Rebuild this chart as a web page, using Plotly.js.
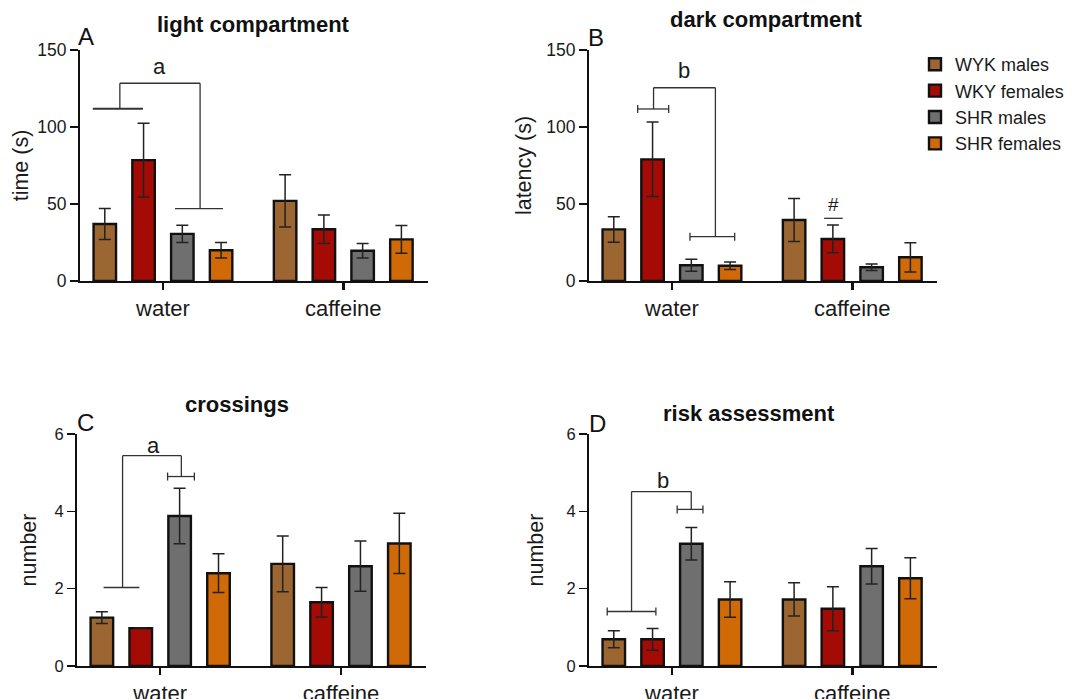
<!DOCTYPE html>
<html>
<head>
<meta charset="utf-8">
<script src="https://cdn.plot.ly/plotly-3.0.1.min.js"></script>
<style>html,body{margin:0;padding:0;background:#fff;} #chart{width:1074px;height:699px;}</style>
</head>
<body>
<div id="chart"></div>
<script>
// ---- data ----
const groups = ['water', 'caffeine'];
const seriesNames = ['WYK males', 'WKY females', 'SHR males', 'SHR females'];
const seriesColors = ['#9C6632', '#A50B05', '#6F6F6F', '#D06A06'];

// A: light compartment, time (s)
const lightMean = [[37, 52], [78.5, 33.6], [30.6, 19.6], [20, 27]];
const lightSem  = [[10, 17], [24, 9.3], [5.6, 4.7], [5, 9]];
// B: dark compartment, latency (s)
const darkMean = [[33.5, 39.6], [79, 27.3], [10.2, 8.9], [9.9, 15.4]];
const darkSem  = [[8.3, 14], [24.2, 9], [3.9, 2.1], [2.4, 9.5]];
// C: crossings, number
const crossMean = [[1.25, 2.64], [0.98, 1.65], [3.88, 2.58], [2.40, 3.17]];
const crossSem  = [[0.15, 0.72], [0, 0.38], [0.72, 0.65], [0.5, 0.78]];
// D: risk assessment, number
const riskMean = [[0.69, 1.72], [0.69, 1.48], [3.16, 2.58], [1.72, 2.27]];
const riskSem  = [[0.22, 0.43], [0.28, 0.57], [0.42, 0.46], [0.46, 0.53]];

const FONT = 'Liberation Sans, Arial, Helvetica, sans-serif';
const W = 1074, H = 699;
const px = v => v / W;
const py = v => (H - v) / H;

const panels = [
  {ax: '',  mean: lightMean, sem: lightSem, legend: true},
  {ax: '2', mean: darkMean,  sem: darkSem,  legend: false},
  {ax: '3', mean: crossMean, sem: crossSem, legend: false},
  {ax: '4', mean: riskMean,  sem: riskSem,  legend: false}
];

const traces = [];
panels.forEach(p => {
  seriesNames.forEach((name, i) => {
    traces.push({
      type: 'bar',
      name: name,
      legendgroup: name,
      showlegend: p.legend,
      x: groups,
      y: p.mean[i],
      xaxis: 'x' + p.ax,
      yaxis: 'y' + p.ax,
      marker: {color: seriesColors[i], line: {color: '#111', width: 2.4}},
      error_y: {type: 'data', array: p.sem[i], visible: true, color: '#222', thickness: 1.5, width: 6},
      hoverinfo: 'y+name'
    });
  });
});

function xAxis(dom) {
  return {
    domain: [px(dom[0]), px(dom[1])], type: 'category', range: [-0.46, 1.47],
    showline: true, linewidth: 2, linecolor: '#111', ticks: 'outside', ticklen: 7, tickwidth: 2.5,
    tickcolor: '#111', showgrid: false, zeroline: false, fixedrange: true,
    tickfont: {family: FONT, size: 22, color: '#1a1a1a'}
  };
}
function yAxis(dom, range, dtick, title, standoff, anchor, tfs) {
  return {
    domain: [py(dom[0]), py(dom[1])], range: range, dtick: dtick,
    showline: true, linewidth: 2, linecolor: '#111', ticks: 'outside', ticklen: 8, tickwidth: 1.5,
    tickcolor: '#111', showgrid: false, zeroline: false, fixedrange: true, anchor: anchor,
    tickfont: {family: FONT, size: tfs, color: '#1a1a1a'},
    title: {text: title, standoff: standoff, font: {family: FONT, size: 21.5, color: '#1a1a1a'}}
  };
}

// ---- annotation helpers (brackets) ----
const BR = {color: '#333', width: 1.3};
function seg(ax, x0, y0, x1, y1, w) {
  return {type: 'line', xref: 'x' + ax, yref: 'y' + ax, x0: x0, y0: y0, x1: x1, y1: y1,
          line: {color: BR.color, width: w || BR.width}};
}
function cap(ax, x, y) {
  return {type: 'line', xref: 'x' + ax, yref: 'y' + ax, ysizemode: 'pixel', yanchor: y,
          x0: x, x1: x, y0: -4, y1: 4, line: {color: BR.color, width: BR.width}};
}
function capped(ax, x0, x1, y) {
  return [seg(ax, x0, y, x1, y), cap(ax, x0, y), cap(ax, x1, y)];
}

const shapes = [].concat(
  // A
  [seg('', -0.389, 111.8, -0.111, 111.8, 2), seg('', -0.239, 111.8, -0.239, 128.4),
   seg('', -0.239, 128.4, 0.206, 128.4), seg('', 0.206, 128.4, 0.206, 47),
   seg('', 0.067, 47, 0.333, 47)],
  // B
  capped('2', -0.19, -0.018, 111.7),
  [seg('2', -0.102, 111.7, -0.102, 125.5), seg('2', -0.102, 125.5, 0.241, 125.5),
   seg('2', 0.241, 125.5, 0.241, 28.8)],
  capped('2', 0.1, 0.348, 28.8),
  [seg('2', 0.844, 40.7, 0.947, 40.7)],
  // C
  [seg('3', -0.313, 2.03, -0.115, 2.03), seg('3', -0.208, 2.03, -0.208, 5.44),
   seg('3', -0.208, 5.44, 0.117, 5.44), seg('3', 0.117, 5.44, 0.117, 4.9)],
  capped('3', 0.041, 0.189, 4.9),
  // D
  capped('4', -0.359, -0.089, 1.41),
  [seg('4', -0.224, 1.41, -0.224, 4.51), seg('4', -0.224, 4.51, 0.107, 4.51),
   seg('4', 0.107, 4.51, 0.107, 4.05)],
  capped('4', 0.029, 0.172, 4.05)
);

function txt(ax, x, y, t, size) {
  return {xref: 'x' + ax, yref: 'y' + ax, x: x, y: y, text: t, showarrow: false,
          font: {family: FONT, size: size || 22, color: '#1a1a1a'}};
}
function ptxt(x, y, t, size, bold) {
  return {xref: 'paper', yref: 'paper', x: px(x), y: py(y), text: bold ? '<b>' + t + '</b>' : t,
          showarrow: false, xanchor: 'center', yanchor: 'middle',
          font: {family: FONT, size: size, color: '#111'}};
}

const annotations = [
  txt('', -0.017, 139.5, 'a'), txt('2', 0.065, 137, 'b'),
  txt('2', 0.897, 49.4, '#', 19),
  txt('3', -0.037, 5.71, 'a'), txt('4', -0.048, 4.81, 'b'),
  ptxt(253.5, 25, 'light compartment', 22, true),
  ptxt(766, 20, 'dark compartment', 22, true),
  ptxt(236.5, 405, 'crossings', 22, true),
  ptxt(749, 413, 'risk assessment', 22, true),
  ptxt(86, 36, 'A', 24), ptxt(596, 37, 'B', 24),
  ptxt(85, 422, 'C', 24), ptxt(597, 423.5, 'D', 24)
];

const layout = {
  width: W, height: H, autosize: false,
  margin: {l: 0, r: 0, t: 0, b: 0},
  paper_bgcolor: '#fff', plot_bgcolor: 'rgba(0,0,0,0)',
  font: {family: FONT, color: '#1a1a1a'},
  barmode: 'group', bargap: 0.14, bargroupgap: 0.42,
  showlegend: true,
  legend: {x: px(915), y: py(46), xanchor: 'left', yanchor: 'top',
           font: {family: FONT, size: 18, color: '#1a1a1a'}, bgcolor: 'rgba(0,0,0,0)',
           tracegroupgap: 0, itemwidth: 30},
  xaxis:  xAxis([80, 428]),  yaxis:  yAxis([281, 50], [0, 150], 50, 'time (s)', 3, 'x', 17.5),
  xaxis2: Object.assign(xAxis([589, 937]), {anchor: 'y2'}),
  yaxis2: yAxis([281, 50], [0, 150], 50, 'latency (s)', 9, 'x2', 17.5),
  xaxis3: Object.assign(xAxis([77, 426]), {anchor: 'y3'}),
  yaxis3: yAxis([666, 434], [0, 6], 2, 'number', 12, 'x3', 16.5),
  xaxis4: Object.assign(xAxis([589, 937]), {anchor: 'y4'}),
  yaxis4: yAxis([666, 434], [0, 6], 2, 'number', 17, 'x4', 16.5),
  shapes: shapes,
  annotations: annotations
};
layout.xaxis.anchor = 'y';

Plotly.newPlot('chart', traces, layout, {displayModeBar: false, staticPlot: true});
</script>
</body>
</html>
